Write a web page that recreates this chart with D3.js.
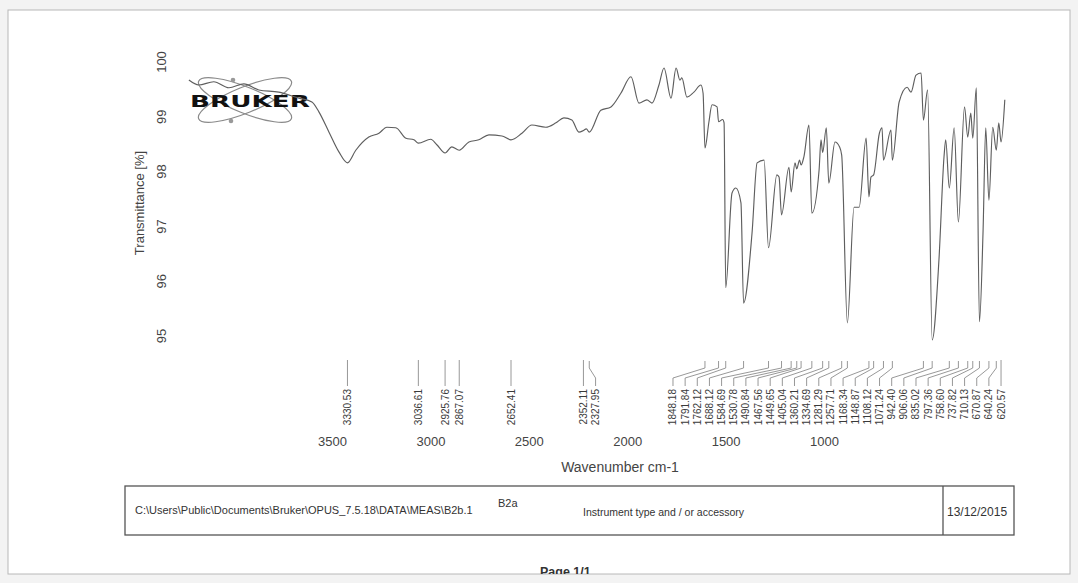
<!DOCTYPE html>
<html>
<head>
<meta charset="utf-8">
<script src="https://cdn.jsdelivr.net/npm/d3@7"></script>
<style>
  html, body { margin: 0; padding: 0; background: #f3f3f3; }
  svg { display: block; font-family: "Liberation Sans", Arial, sans-serif; }
</style>
</head>
<body>
<svg id="chart" width="1078" height="583"></svg>
<script>
// IR spectrum (wavenumber in cm-1, transmittance in %)
const wavenumbers = [
  3988, 3947, 3885, 3822, 3760, 3698, 3615, 3532, 3478, 3449, 3407, 3366,
  3330.53, 3296, 3242, 3200, 3167, 3130, 3088, 3055, 3036.61, 2985, 2960,
  2925.76, 2898, 2867.07, 2827, 2786, 2744, 2690, 2652.41, 2607, 2566, 2508,
  2466, 2433, 2400, 2371, 2352.11, 2340, 2327.95, 2280, 2238, 2197, 2155,
  2122, 2089, 2068, 2039, 2018, 1989, 1968, 1952, 1944, 1923, 1894, 1865,
  1856, 1848.18, 1832, 1819, 1798, 1791.84, 1775, 1769, 1762.12, 1736, 1720,
  1699, 1688.12, 1653, 1632, 1603, 1584.69, 1550, 1541, 1530.78, 1500,
  1490.84, 1475, 1467.56, 1456, 1449.65, 1438, 1417, 1405.04, 1375, 1367,
  1360.21, 1345, 1334.69, 1309, 1290, 1281.29, 1257.71, 1230, 1209, 1180,
  1168.34, 1160, 1148.87, 1125, 1114, 1108.12, 1077, 1071.24, 1043, 1010,
  994, 973, 952, 942.40, 925, 906.06, 878, 857, 850, 835.02, 815, 797.36,
  772, 758.60, 746, 737.82, 723, 710.13, 695, 684, 670.87, 655, 640.24, 630,
  620.57, 605
];
const transmittance = [
  99.67, 99.58, 99.64, 99.53, 99.60, 99.49, 99.45, 99.34, 99.27, 99.09, 98.72, 98.36,
  98.16, 98.39, 98.63, 98.70, 98.81, 98.80, 98.61, 98.58, 98.52, 98.59, 98.49,
  98.34, 98.45, 98.39, 98.54, 98.58, 98.67, 98.65, 98.58, 98.70, 98.85, 98.81,
  98.89, 98.98, 98.94, 98.72, 98.75, 98.78, 98.72, 99.12, 99.18, 99.43, 99.73,
  99.25, 99.31, 99.25, 99.58, 99.89, 99.34, 99.89, 99.67, 99.71, 99.36, 99.45, 99.58,
  99.43, 98.43, 98.90, 99.22, 99.18, 98.91, 98.95, 98.89, 95.88, 97.61, 97.70,
  97.43, 95.60, 96.88, 98.16, 98.21, 96.61, 97.94, 97.90, 97.21, 98.08,
  97.63, 98.16, 98.05, 98.21, 98.12, 98.27, 98.85, 97.24, 98.03, 98.58,
  98.35, 98.80, 97.79, 98.54, 98.45, 98.30, 95.24, 97.35, 97.35, 98.61,
  97.54, 97.90, 97.94, 98.70, 98.80, 98.21, 98.76, 98.21, 99.27, 99.54,
  99.45, 99.76, 99.80, 98.94, 99.49, 94.93, 96.39, 98.27, 98.58, 97.70, 98.80, 97.08,
  99.18, 98.63, 99.07, 98.61, 99.53, 95.26, 96.93, 98.80, 97.48, 98.81, 98.39, 98.89,
  98.54, 99.31
];

// Picked peaks, labelled under the spectrum
const peakPositions = [
  3330.53, 3036.61, 2925.76, 2867.07, 2652.41, 2352.11, 2327.95,
  1848.18, 1791.84, 1762.12, 1688.12, 1584.69, 1530.78, 1490.84, 1467.56,
  1449.65, 1405.04, 1360.21, 1334.69, 1281.29, 1257.71, 1168.34, 1148.87,
  1108.12, 1071.24, 942.40, 906.06, 835.02, 797.36, 758.60, 737.82, 710.13,
  670.87, 640.24, 620.57
];

const xTicks = [3500, 3000, 2500, 2000, 1500, 1000];
const yTicks = [95, 96, 97, 98, 99, 100];

const xTitle = "Wavenumber cm-1";
const yTitle = "Transmittance [%]";
const filePath = "C:\\Users\\Public\\Documents\\Bruker\\OPUS_7.5.18\\DATA\\MEAS\\B2b.1";
const sampleName = "B2a";
const instrument = "Instrument type and / or accessory";
const dateText = "13/12/2015";
const pageText = "Page 1/1";

const svg = d3.select("#chart");

// page sheet
const sheet = { x: 8, y: 10, w: 1062, h: 564 };
svg.append("defs").append("clipPath").attr("id", "sheetClip")
  .append("rect").attr("x", sheet.x).attr("y", sheet.y).attr("width", sheet.w).attr("height", sheet.h);
svg.append("rect")
  .attr("x", sheet.x).attr("y", sheet.y).attr("width", sheet.w).attr("height", sheet.h)
  .attr("fill", "#ffffff").attr("stroke", "#b8b8b8").attr("stroke-width", 1);

const page = svg.append("g").attr("clip-path", "url(#sheetClip)");

// spectrum / peak scale
const x = d3.scaleLinear().domain([4000, 600]).range([186, 1006]);
// scale the printed wavenumber axis labels sit on
const xLabelScale = d3.scaleLinear().domain([3500, 1000]).range([332, 824]);
const y = d3.scaleLinear().domain([95, 100]).range([336, 62]);

// Bruker logo
const logo = page.append("g").attr("class", "logo");
logo.append("ellipse").attr("cx", 245).attr("cy", 100).attr("rx", 50).attr("ry", 13)
  .attr("transform", "rotate(22 245 100)").attr("fill", "none").attr("stroke", "#8a8a8a").attr("stroke-width", 1.2);
logo.append("ellipse").attr("cx", 245).attr("cy", 100).attr("rx", 50).attr("ry", 13)
  .attr("transform", "rotate(-22 245 100)").attr("fill", "none").attr("stroke", "#8a8a8a").attr("stroke-width", 1.2);
logo.append("circle").attr("cx", 233).attr("cy", 80).attr("r", 2.3).attr("fill", "#999");
logo.append("circle").attr("cx", 231).attr("cy", 121).attr("r", 2.3).attr("fill", "#999");
logo.append("text").attr("x", 190).attr("y", 106.5)
  .attr("font-family", "'DejaVu Sans', sans-serif").attr("font-weight", 900)
  .attr("font-size", 15).attr("textLength", 120).attr("lengthAdjust", "spacingAndGlyphs")
  .attr("fill", "#111").text("BRUKER");

// spectrum trace
const points = wavenumbers.map((w, i) => [w, transmittance[i]]);
const line = d3.line().x(d => x(d[0])).y(d => y(d[1])).curve(d3.curveMonotoneX);
page.append("path").datum(points)
  .attr("d", line).attr("fill", "none")
  .attr("stroke", "#5e5e5e").attr("stroke-width", 1.15).attr("stroke-linejoin", "round");

// y axis: rotated tick labels, no axis line
const yAxis = page.append("g").attr("class", "y-axis");
yAxis.selectAll("text").data(yTicks).join("text")
  .attr("transform", d => `translate(161,${y(d)}) rotate(-90)`)
  .attr("text-anchor", "middle").attr("dy", "0.35em")
  .attr("font-size", 13).attr("fill", "#444").text(d => d);
page.append("text")
  .attr("transform", `translate(139,${(y(95) + y(100)) / 2 + 4}) rotate(-90)`)
  .attr("text-anchor", "middle").attr("dy", "0.35em")
  .attr("font-size", 13).attr("fill", "#444").text(yTitle);

// x axis: tick labels only
const xAxis = d3.axisBottom(xLabelScale).tickValues(xTicks).tickSize(0).tickPadding(0).tickFormat(d3.format("d"));
const gx = page.append("g").attr("transform", "translate(0,437)").call(xAxis);
gx.select(".domain").remove();
gx.selectAll("text").attr("font-size", 13).attr("font-family", "'Liberation Sans', Arial, sans-serif").attr("fill", "#444");
page.append("text").attr("x", 620).attr("y", 472).attr("text-anchor", "middle")
  .attr("font-size", 14).attr("fill", "#444").text(xTitle);

// peak labels, spread apart where they crowd, with leader lines to the peak
const gap = 12.15;
const actual = peakPositions.map(p => x(p));
const pos = actual.slice();
for (let i = 1; i < pos.length; i++) pos[i] = Math.max(pos[i], pos[i - 1] + gap);
const rightBound = x(peakPositions[peakPositions.length - 1]);
pos[pos.length - 1] = Math.min(pos[pos.length - 1], rightBound);
for (let i = pos.length - 2; i >= 0; i--) pos[i] = Math.min(pos[i], pos[i + 1] - gap);

const peaksG = page.append("g").attr("class", "peaks");
peaksG.selectAll("path").data(peakPositions).join("path")
  .attr("d", (d, i) => Math.abs(pos[i] - actual[i]) < 0.5
    ? `M${actual[i]},360V386`
    : `M${actual[i]},361V368L${pos[i]},378V386`)
  .attr("fill", "none").attr("stroke", "#8c8c8c").attr("stroke-width", 0.9);
peaksG.selectAll("text").data(peakPositions).join("text")
  .attr("transform", (d, i) => `translate(${pos[i]},389) rotate(-90)`)
  .attr("text-anchor", "end").attr("dy", "0.35em")
  .attr("font-size", 10).attr("fill", "#3a3a3a").text(d => d3.format(".2f")(d));

// footer box
const box = page.append("g").attr("class", "footer");
box.append("rect").attr("x", 125).attr("y", 486).attr("width", 889).attr("height", 49)
  .attr("fill", "none").attr("stroke", "#555").attr("stroke-width", 1.3);
box.append("line").attr("x1", 943).attr("x2", 943).attr("y1", 486).attr("y2", 535)
  .attr("stroke", "#555").attr("stroke-width", 1.3);
box.append("text").attr("x", 135).attr("y", 514).attr("font-size", 11).attr("fill", "#333").text(filePath);
box.append("text").attr("x", 498).attr("y", 507).attr("font-size", 11).attr("fill", "#333").text(sampleName);
box.append("text").attr("x", 583).attr("y", 516).attr("font-size", 10.5).attr("fill", "#333").text(instrument);
box.append("text").attr("x", 947).attr("y", 516).attr("font-size", 12).attr("fill", "#333").text(dateText);
page.append("text").attr("x", 540).attr("y", 576).attr("font-size", 12.5).attr("font-weight", "bold")
  .attr("fill", "#333").text(pageText);
</script>
</body>
</html>
